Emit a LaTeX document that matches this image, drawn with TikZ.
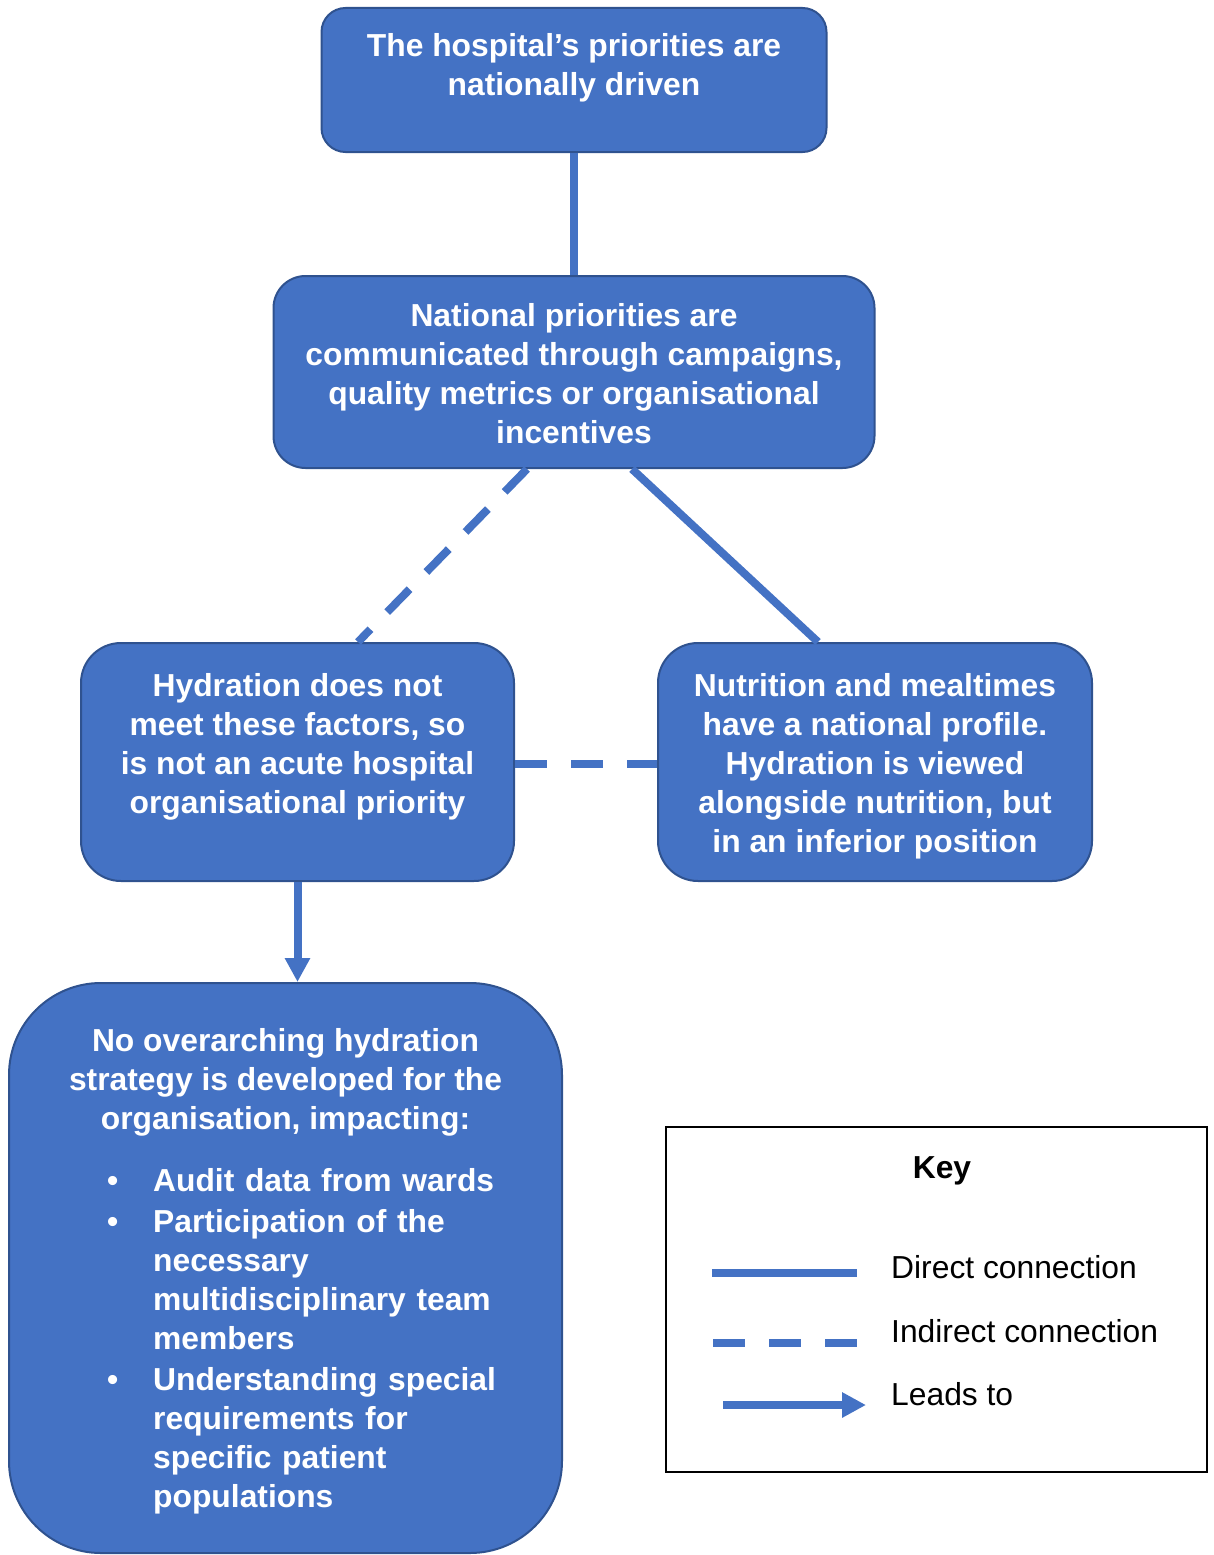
\documentclass[tikz,border=0pt]{standalone}
\usepackage{fontspec}
\setmainfont{Liberation Sans}
\usetikzlibrary{arrows.meta}
\definecolor{boxfill}{HTML}{4472C4}
\definecolor{boxedge}{HTML}{2F528F}
\newcommand{\bulletitem}{\leavevmode\llap{\textbullet\hspace{35pt}}}
\begin{document}
\begin{tikzpicture}[x=1pt,y=-1pt,
  box/.style={draw=boxedge, fill=boxfill, line width=2pt, rounded corners=#1, inner sep=0pt},
  txt/.style={text=white, font=\bfseries\fontsize{31.8}{39}\selectfont, align=center, inner sep=0pt},
  conn/.style={draw=boxfill, line width=8pt},
  indirect/.style={conn, dash pattern=on 32pt off 24pt},
  leads/.style={conn, -{Triangle[width=24pt,length=24pt]}},
  keytxt/.style={text=black, font=\fontsize{31.8}{39}\selectfont, inner sep=0pt}]
\useasboundingbox (0,0) rectangle (1214,1555);

% boxes
\node[box=24pt, minimum width=505pt, minimum height=144pt] (b1) at (574,80) {};
\node[box=32pt, minimum width=601pt, minimum height=192pt] (b2) at (574,372) {};
\node[box=40pt, minimum width=433pt, minimum height=238pt] (b3) at (297.5,762) {};
\node[box=40pt, minimum width=434pt, minimum height=238pt] (b4) at (875,762) {};
\node[box=92pt, minimum width=553pt, minimum height=570pt] (b5) at (285.5,1268) {};

% box texts
\node[txt] (t1) at (574,67.5) {The hospital's priorities are\\nationally driven};
\node[txt] (t2) at (574,374) {National priorities are\\communicated through campaigns,\\quality metrics or organisational\\incentives};
\node[txt] (t3) at (297.5,746.5) {Hydration does not\\meet these factors, so\\is not an acute hospital\\organisational priority};
\node[txt] (t4) at (875,766) {Nutrition and mealtimes\\have a national profile.\\Hydration is viewed\\alongside nutrition, but\\in an inferior position};
\node[txt] (t5) at (285.5,1082) {No overarching hydration\\strategy is developed for the\\organisation, impacting:};
\node[txt, align=left, text width=400pt, anchor=west] (t5list) at (153,1341)
  {\bulletitem Audit data from wards\\[2pt]
   \bulletitem Participation of the\\necessary\\multidisciplinary team\\members\\[2pt]
   \bulletitem Understanding special\\requirements for\\specific patient\\populations};

% connectors
\draw[conn] (b1.south) -- (b2.north);
\draw[indirect] ([xshift=-47pt]b2.south) -- ([xshift=60.5pt]b3.north);
\draw[conn] ([xshift=58pt]b2.south) -- ([xshift=-57pt]b4.north);
\draw[indirect] ([yshift=-2pt]b3.east) -- ([yshift=-2pt]b4.west);
\draw[leads] (b3.south) -- (b3.south |- b5.north);

% key
\node[draw=black, line width=2.5pt, minimum width=541pt, minimum height=345pt, inner sep=0pt] (key) at (936.5,1299.5) {};
\node[keytxt, font=\bfseries\fontsize{31.8}{39}\selectfont, anchor=base] (keytitle) at (942,1178.5) {Key};
\coordinate (ds1) at (712,1273);
\coordinate (ds2) at (857,1273);
\coordinate (is1) at (713,1343);
\coordinate (is2) at (857,1343);
\coordinate (ls1) at (723,1405);
\coordinate (ls2) at (866,1405);
\draw[conn] (ds1) -- (ds2);
\draw[indirect] (is1) -- (is2);
\draw[leads] (ls1) -- (ls2);
\node[keytxt, anchor=base west] (kdirect) at (891,1278.5) {Direct connection};
\node[keytxt, anchor=base west] (kindirect) at (891,1342.5) {Indirect connection};
\node[keytxt, anchor=base west] (kleads) at (891,1405.5) {Leads to};
\end{tikzpicture}
\end{document}
